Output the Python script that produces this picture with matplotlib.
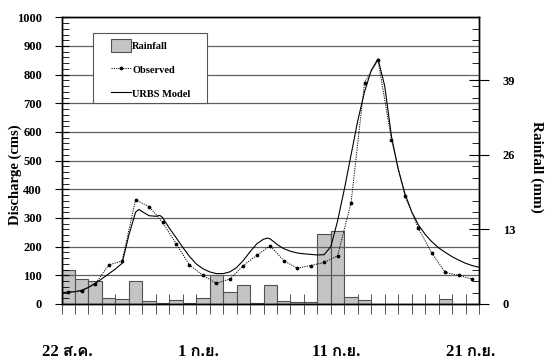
import matplotlib
matplotlib.use("Agg")
import matplotlib.pyplot as plt
import matplotlib.transforms as mtransforms
from matplotlib import font_manager, ft2font
from matplotlib.patches import Rectangle, Patch
from matplotlib.lines import Line2D
from matplotlib.ticker import MultipleLocator, NullLocator

# daily rainfall (mm), one bar per day starting 22 Aug
rain = [6.0, 4.3, 3.95, 1.0, 0.87, 3.95, 0.46, 0.1, 0.64, 0.1,
        1.0, 5.0, 2.09, 3.25, 0.1, 3.25, 0.52, 0.29, 0.29, 12.14,
        12.66, 1.16, 0.7, 0, 0, 0, 0, 0, 0.87, 0, 0]

# observed discharge (cms), daily, plotted at mid-day
observed = [42, 44, 70, 136, 150, 363, 340, 285, 211, 136,
            100, 72, 87, 134, 170, 203, 151, 125, 134, 145,
            168, 353, 772, 851, 573, 377, 264, 177, 110, 100, 87]

# URBS model discharge (cms)
model_day = [0, 0.5, 1, 1.5, 2, 2.5, 3, 3.5, 4, 4.5, 5, 5.5, 5.75, 6, 6.5, 7, 7.3,
             7.5, 8, 8.5, 9, 9.5, 10, 10.5, 11, 11.5, 12, 12.5, 13, 13.5, 14,
             14.5, 15, 15.3, 15.5, 16, 16.5, 17, 17.5, 18, 18.5, 19, 19.5, 20,
             20.5, 21, 21.5, 22, 22.5, 23, 23.5, 24, 24.5, 25, 25.5, 26, 26.5,
             27, 27.5, 28, 28.5, 29, 29.5, 30, 30.5, 31]
model_q = [40, 41, 43, 48, 58, 72, 88, 105, 122, 142, 240, 320, 330, 322, 308, 306, 309,
           302, 265, 232, 198, 166, 140, 123, 112, 106, 106, 112, 127, 152, 182,
           210, 226, 230, 227, 208, 193, 184, 178, 175, 173, 171, 172, 200,
           290, 400, 520, 640, 740, 815, 855, 760, 585, 470, 385, 322, 276,
           243, 217, 196, 180, 165, 153, 142, 134, 128]

date_pos = [0.4, 10.2, 20.4, 30.4]
date_labels = ["22 ส.ค.", "1 ก.ย.", "11 ก.ย.", "21 ก.ย."]


def thai_family():
    for f in font_manager.fontManager.ttflist:
        try:
            cmap = ft2font.FT2Font(f.fname).get_charmap()
        except Exception:
            continue
        if 0x0E01 in cmap and 0x0E22 in cmap:
            return f.name
    return "DejaVu Sans"


serif = ["Liberation Serif", "DejaVu Serif"]
thai = thai_family()
plt.rcParams["font.family"] = serif + [thai]
plt.rcParams["font.weight"] = "bold"

fig = plt.figure(figsize=(5.45, 3.62), dpi=100)
ax = fig.add_axes([61.5 / 545, 58 / 362, 417.5 / 545, 286.7 / 362])
ax2 = ax.twinx()
ax.set_zorder(ax2.get_zorder() + 1)
ax.patch.set_visible(False)

days = list(range(len(rain)))
ax2.bar(days, rain, width=1.0, align="edge", color="#c4c4c4",
        edgecolor="#505050", linewidth=0.8)
ax2.set_ylim(0, 50)

mid = [d + 0.5 for d in days]
ax.plot(mid, observed, color="black", ls=(0, (1.2, 1.2)), lw=0.7,
        marker="o", ms=1.7)
ax.plot(model_day, model_q, color="black", lw=0.8)

ax.set_xlim(0, 31)
ax.set_ylim(0, 1000)
ax.yaxis.set_major_locator(MultipleLocator(100))
ax.yaxis.set_minor_locator(MultipleLocator(20))
ax.xaxis.set_major_locator(MultipleLocator(1))
ax.xaxis.set_minor_locator(NullLocator())
ax.grid(axis="y", color="#606060", lw=0.9)
ax.set_axisbelow(True)
ax.tick_params(axis="x", which="major", direction="inout", length=14,
               width=0.7, color="#555555", labelbottom=False)
ax.tick_params(axis="y", which="major", direction="inout", length=10,
               width=0.8, labelsize=9, pad=9)
ax.tick_params(axis="y", which="minor", direction="in", length=5, width=0.6)

ax2.set_yticks([0, 13, 26, 39])
ax2.yaxis.set_minor_locator(MultipleLocator(2))
ax2.tick_params(axis="y", which="major", direction="inout", length=14,
                width=0.8, labelsize=9, pad=10)
ax2.tick_params(axis="y", which="minor", direction="in", length=5, width=0.6)

for a in (ax, ax2):
    for s in a.spines.values():
        s.set_linewidth(1.0)

trans = mtransforms.blended_transform_factory(ax.transData, ax.transAxes)
for p, lab in zip(date_pos, date_labels):
    ax.text(p, -0.167, lab, transform=trans, ha="center", va="center",
            fontsize=12, fontweight="bold", family=serif + [thai])

fig.text(15.5 / 545, 1 - 175 / 362, "Discharge (cms)", rotation=90,
         ha="center", va="center", fontsize=10.5, fontweight="bold")
fig.text(537 / 545, 1 - 167 / 362, "Rainfall (mm)", rotation=270,
         ha="center", va="center", fontsize=11, fontweight="bold")

# legend box
fig.patches.append(Rectangle((93.3 / 545, 1 - 102.7 / 362), 114 / 545, 69.4 / 362,
                             transform=fig.transFigure, facecolor="white",
                             edgecolor="#555555", lw=0.8, zorder=5))
handles = [Patch(facecolor="#c4c4c4", edgecolor="#505050", lw=0.8),
           Line2D([], [], color="black", ls=(0, (1.2, 1.2)), lw=0.7, marker="o", ms=1.7),
           Line2D([], [], color="black", lw=0.8)]
leg = fig.legend(handles, ["Rainfall", "Observed", "URBS Model"], loc="upper left",
                 bbox_to_anchor=(111 / 545, 1 - 39 / 362), frameon=False,
                 borderpad=0, borderaxespad=0, handlelength=1.9,
                 handleheight=1.5, handletextpad=0.15, labelspacing=1.1,
                 prop={"weight": "bold", "size": 7.5})
leg.set_zorder(6)

fig.savefig("out.png", dpi=100)
